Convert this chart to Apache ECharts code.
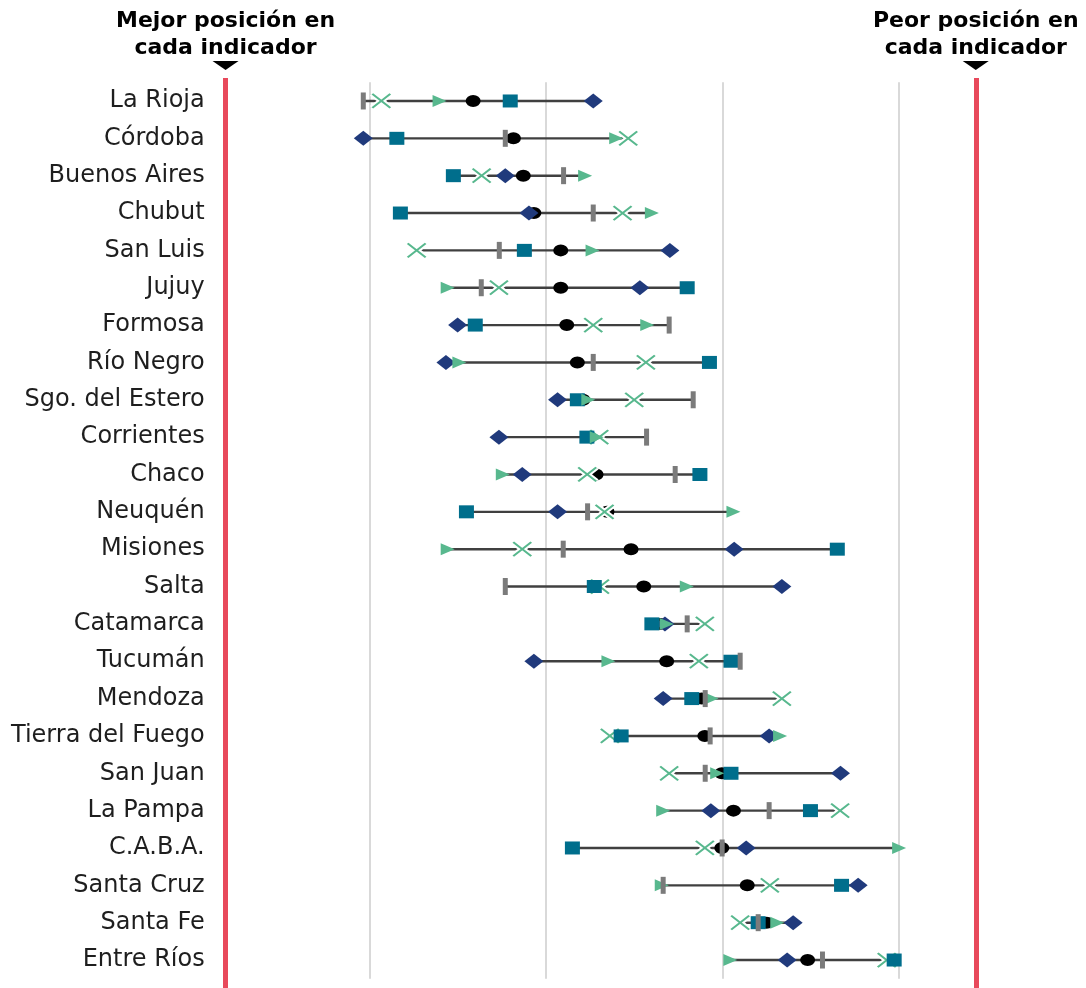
<!DOCTYPE html>
<html lang="es" style="height: 100%">
<head>
  <meta charset="utf-8">
  <title>posiciones</title>
</head>
<body style="height: 100%; margin: 0; background: #fff">
  <div id="container" style="width: 1086px; height: 988px"></div>
  <script type="text/javascript" src="https://cdn.jsdelivr.net/npm/echarts@6/dist/echarts.min.js"></script>
  <script type="text/javascript">
// datos (posicion media en cada grupo de indicadores)
const provincias = ['La Rioja', 'Córdoba', 'Buenos Aires', 'Chubut', 'San Luis', 'Jujuy',
  'Formosa', 'Río Negro', 'Sgo. del Estero', 'Corrientes', 'Chaco', 'Neuquén',
  'Misiones', 'Salta', 'Catamarca', 'Tucumán', 'Mendoza', 'Tierra del Fuego',
  'San Juan', 'La Pampa', 'C.A.B.A.', 'Santa Cruz', 'Santa Fe', 'Entre Ríos'];
const barra     = [4.83, 8.85, 10.50, 11.34, 8.68, 8.17, 13.49, 11.34, 14.17, 12.85, 13.66, 11.18,
                   10.49, 8.85, 14.00, 15.50, 14.51, 14.65, 14.51, 16.32, 14.99, 13.32, 16.01, 17.83];
const cruz      = [5.34, 12.33, 8.18, 12.17, 6.34, 8.67, 11.34, 12.83, 12.50, 11.51, 11.17, 11.66,
                   9.33, 11.53, 14.50, 14.33, 16.68, 11.81, 13.49, 18.33, 14.50, 16.34, 15.50, 19.65];
const triangulo = [6.99, 11.99, 11.11, 13.00, 11.32, 7.22, 12.87, 7.55, 11.20, 11.44, 8.78, 15.31,
                   7.22, 13.99, 13.42, 11.77, 14.69, 16.63, 14.85, 13.32, 20.00, 13.28, 16.55, 15.22];
const circulo   = [7.94, 9.08, 9.36, 9.66, 10.42, 10.42, 10.59, 10.89, 11.05, 11.25, 11.42, 11.73,
                   12.41, 12.77, 13.23, 13.42, 14.41, 14.50, 14.98, 15.31, 14.98, 15.70, 16.25, 17.41];
const cuadrado  = [8.99, 5.78, 7.38, 5.88, 9.39, 14.00, 8.00, 14.63, 10.89, 11.16, 14.36, 7.75,
                   18.25, 11.37, 13.00, 15.24, 14.13, 12.13, 15.24, 17.49, 10.75, 18.37, 16.01, 19.86];
const rombo     = [11.34, 4.83, 8.85, 9.52, 13.51, 12.66, 7.50, 7.17, 10.33, 8.67, 9.33, 10.33,
                   15.33, 16.68, 13.37, 9.66, 13.32, 16.32, 18.34, 14.67, 15.67, 18.84, 17.00, 16.83];
// mejor y peor posicion posibles
const extremos = [0.93, 22.17];
const encabezados = ['Mejor posición en\ncada indicador', 'Peor posición en\ncada indicador'];

var dom = document.getElementById('container');
var myChart = echarts.init(dom, null, { renderer: 'canvas' });

const grupos = [barra, cruz, triangulo, circulo, cuadrado, rombo];
const rangos = provincias.map(function (p, i) {
  const vals = grupos.map(function (g) { return g[i]; });
  return [Math.min.apply(null, vals), Math.max.apply(null, vals), i];
});

function puntos(arr) {
  return arr.map(function (v, i) { return [v, provincias[i]]; });
}

const fuente = 'DejaVu Sans';

var option = {
  animation: false,
  grid: [
    { left: 192.7, right: 45.6, top: 82.3, height: 896.4 },
    { left: 192.7, right: 45.6, top: 78, bottom: 0 }
  ],
  xAxis: [
    {
      type: 'value', min: 0, max: 24, interval: 5, gridIndex: 0,
      axisLabel: { show: false }, axisLine: { show: false }, axisTick: { show: false },
      splitLine: { show: true, showMinLine: false, showMaxLine: false,
        lineStyle: { color: '#d9d9d9', width: 2 } }
    },
    {
      type: 'value', min: 0, max: 24, gridIndex: 1, show: false
    }
  ],
  yAxis: [
    {
      type: 'category', data: provincias, inverse: true, gridIndex: 0,
      axisLine: { show: false }, axisTick: { show: false }, splitLine: { show: false },
      axisLabel: { margin: -12, fontFamily: fuente, fontSize: 24, color: '#1e1e1e' }
    },
    { type: 'value', min: 0, max: 1, gridIndex: 1, show: false }
  ],
  series: [
    {
      name: 'extremos', type: 'scatter', xAxisIndex: 1, yAxisIndex: 1,
      data: [[0, 0]], symbolSize: 0, silent: true,
      markLine: {
        silent: true, symbol: ['none', 'none'], label: { show: false },
        lineStyle: { color: '#e8495b', width: 5, type: 'solid' },
        data: extremos.map(function (v) { return { xAxis: v }; })
      }
    },
    {
      name: 'rango', type: 'custom', data: rangos,
      encode: { x: [0, 1], y: 2 },
      renderItem: function (params, api) {
        const a = api.coord([api.value(0), api.value(2)]);
        const b = api.coord([api.value(1), api.value(2)]);
        return {
          type: 'line',
          shape: { x1: a[0], y1: a[1], x2: b[0], y2: b[1] },
          style: { stroke: '#404040', lineWidth: 2.4 }
        };
      }
    },
    {
      name: 'circulo', type: 'scatter', data: puntos(circulo),
      symbol: 'circle', symbolSize: [15, 12], itemStyle: { color: '#000', opacity: 1 }
    },
    {
      name: 'rombo', type: 'scatter', data: puntos(rombo),
      symbol: 'diamond', symbolSize: [19, 15], itemStyle: { color: '#203a7c', opacity: 1 }
    },
    {
      name: 'cruz_fondo', type: 'scatter', data: puntos(cruz), silent: true,
      symbol: 'path://M0,0L18,14M0,14L18,0', symbolSize: [18, 14],
      itemStyle: { color: 'rgba(0,0,0,0)', borderColor: '#ffffff', borderWidth: 6, opacity: 1 }
    },
    {
      name: 'cruz', type: 'scatter', data: puntos(cruz),
      symbol: 'path://M0,0L18,14M0,14L18,0', symbolSize: [18, 14],
      itemStyle: { color: 'rgba(0,0,0,0)', borderColor: '#58b88e', borderWidth: 2, opacity: 1 }
    },
    {
      name: 'cuadrado', type: 'scatter', data: puntos(cuadrado),
      symbol: 'rect', symbolSize: [15, 13], itemStyle: { color: '#006e8c', opacity: 1 }
    },
    {
      name: 'triangulo', type: 'scatter', data: puntos(triangulo),
      symbol: 'triangle', symbolRotate: -90, symbolSize: [12, 14],
      itemStyle: { color: '#58b88e', opacity: 1 }
    },
    {
      name: 'barra', type: 'scatter', data: puntos(barra),
      symbol: 'rect', symbolSize: [5, 17], itemStyle: { color: '#7b7b7b', opacity: 1 }
    }
  ]
};

myChart.setOption(option);

// encabezados y flechas sobre las lineas rojas
const graficos = [];
extremos.forEach(function (v, i) {
  const x = myChart.convertToPixel({ xAxisIndex: 1 }, v);
  graficos.push({
    type: 'polygon',
    shape: { points: [[x - 13, 61], [x + 13, 61], [x, 70]] },
    style: { fill: '#000' }
  });
  graficos.push({
    type: 'text', x: x, y: 8,
    style: {
      text: encabezados[i], align: 'center', verticalAlign: 'top',
      font: 'bold 22px "' + fuente + '"', lineHeight: 27, fill: '#000'
    }
  });
});
myChart.setOption({ graphic: graficos });

window.addEventListener('resize', myChart.resize);
  </script>
</body>
</html>
